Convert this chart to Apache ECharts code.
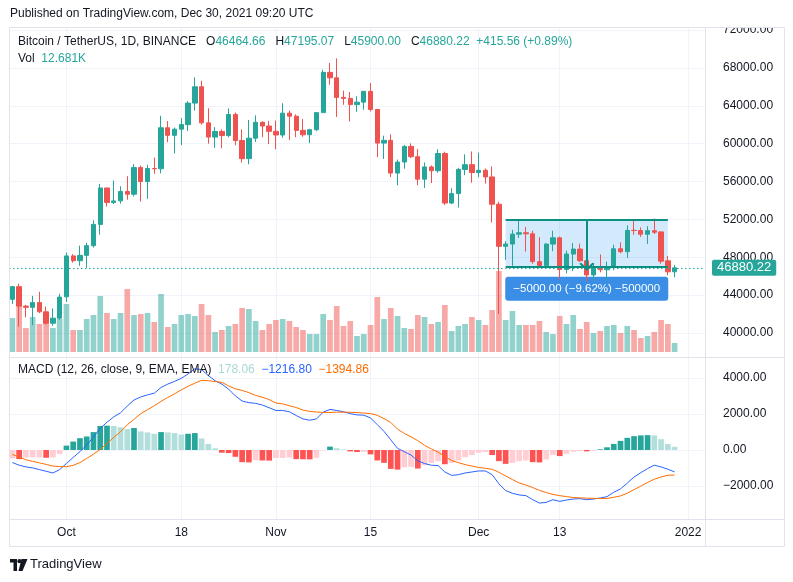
<!DOCTYPE html>
<html><head><meta charset="utf-8">
<script src="https://cdn.jsdelivr.net/npm/echarts@6/dist/echarts.min.js"></script>
<style>html,body{margin:0;padding:0;background:#fff}#c{width:793px;height:582px}</style>
</head><body><div id="c"></div>
<script>
const dates = [
'2021-09-23','2021-09-24','2021-09-25','2021-09-26','2021-09-27','2021-09-28','2021-09-29','2021-09-30',
'2021-10-01','2021-10-02','2021-10-03','2021-10-04','2021-10-05','2021-10-06','2021-10-07','2021-10-08','2021-10-09','2021-10-10',
'2021-10-11','2021-10-12','2021-10-13','2021-10-14','2021-10-15','2021-10-16','2021-10-17','2021-10-18','2021-10-19','2021-10-20',
'2021-10-21','2021-10-22','2021-10-23','2021-10-24','2021-10-25','2021-10-26','2021-10-27','2021-10-28','2021-10-29','2021-10-30','2021-10-31',
'2021-11-01','2021-11-02','2021-11-03','2021-11-04','2021-11-05','2021-11-06','2021-11-07','2021-11-08','2021-11-09','2021-11-10',
'2021-11-11','2021-11-12','2021-11-13','2021-11-14','2021-11-15','2021-11-16','2021-11-17','2021-11-18','2021-11-19','2021-11-20',
'2021-11-21','2021-11-22','2021-11-23','2021-11-24','2021-11-25','2021-11-26','2021-11-27','2021-11-28','2021-11-29','2021-11-30',
'2021-12-01','2021-12-02','2021-12-03','2021-12-04','2021-12-05','2021-12-06','2021-12-07','2021-12-08','2021-12-09','2021-12-10',
'2021-12-11','2021-12-12','2021-12-13','2021-12-14','2021-12-15','2021-12-16','2021-12-17','2021-12-18','2021-12-19','2021-12-20',
'2021-12-21','2021-12-22','2021-12-23','2021-12-24','2021-12-25','2021-12-26','2021-12-27','2021-12-28','2021-12-29','2021-12-30','2021-12-31',
'2022-01-01','2022-01-02','2022-01-03'];

const opens = [43560,44895,42839,42716,43208,42236,41034,41565,43820,48141,
 47634,48200,49225,51471,55316,53785,53955,54950,54659,57471,
 55997,57370,57347,61672,60876,61528,62005,64280,66002,62193,
 60689,61286,60852,63078,60328,58413,60575,62253,61860,61300,
 60911,63220,62896,61396,60940,61470,63274,67525,66947,64882,
 64774,64122,64380,65519,63606,60058,60345,56891,58057,59707,
 58617,56247,57542,57138,58960,53724,54721,57275,57777,56951,
 57185,56485,53602,49152,49396,50441,50589,50471,47536,47140,
 49389,50054,46702,48336,48864,47632,46133,46835,46682,46915,
 48897,48588,50839,50820,50428,50802,50679,47623,46464.66];
const highs = [44978,45200,42970,43919,44350,42787,42590,44132,48495,48336,
 49228,49536,51886,55750,55332,56100,55489,56561,57839,57680,
 57777,58532,62933,62378,61700,62695,64486,67000,66639,63732,
 61747,61500,63710,63293,61496,62499,62980,62359,62405,62437,
 64270,63500,63086,62595,61560,63286,67789,68524,69000,65600,
 65460,65000,65550,66401,63617,60840,60977,58320,59846,60029,
 59444,58010,57700,59399,59150,55281,57445,58865,59176,59053,
 57375,57600,53859,49699,50891,51936,51200,50797,50125,49485,
 50800,50189,48700,49500,49436,47995,47392,48300,47537,49328,
 49576,51375,51869,51156,51281,52088,50704,48139,47195.07];
const lows = [43063,40675,41646,40829,42098,40888,40753,41410,43283,47430,
 47088,46891,49022,50382,53357,53617,53661,54080,54415,53879,
 54167,56819,56850,60150,58963,59844,61322,63482,62000,60000,
 59562,59510,60650,59817,58000,57820,60174,60673,59945,59405,
 60624,60382,60677,60721,60050,61322,63273,66222,62822,64100,
 62333,63360,63576,63400,58574,58373,56474,55600,57353,58486,
 55610,55317,55837,56935,53500,53610,53256,56666,55875,56458,
 55777,51680,42000,47727,47100,50039,48600,47320,46852,46751,
 48638,45672,46290,46547,47511,45456,45500,46406,45558,46630,
 48421,47920,50375,50142,49412,50450,47313,46096,45900];
const closes = [44895,42839,42716,43208,42235,41034,41564,43790,48141,47634,
 48200,49224,51471,55315,53785,53951,54950,54659,57471,55996,
 57368,57347,61672,60875,61528,62009,64280,66001,62193,60688,
 61286,60852,63078,60328,58413,60575,62253,61859,61299,60911,
 63219,62896,61395,60937,61470,63273,67525,66947,64882,64775,
 64122,64380,65519,63606,60058,60345,56891,58052,59707,58622,
 56247,57541,57138,58960,53726,54721,57274,57776,56950,57184,
 56480,53601,49152,49397,50441,50588,50472,47545,47140,49389,
 50053,46702,48343,48864,47632,46131,46834,46681,46915,48896,
 48588,50838,50821,50429,50809,50640,47588,46464.66,46880.22];
// volume in thousands of BTC
const volumes = [47.6,67.2,33.6,49.0,39.2,40.6,33.6,46.2,67.2,30.8,
 30.8,46.2,51.8,78.4,54.6,46.2,54.6,88.2,51.8,53.2,
 54.6,42.0,81.2,35.0,39.2,51.8,53.2,50.4,67.2,51.8,
 28.0,30.8,36.4,39.2,61.6,60.2,43.4,30.8,39.2,44.8,
 46.2,43.4,35.0,30.8,25.2,25.2,53.2,44.8,64.4,36.4,
 43.4,22.4,25.2,37.8,77.0,46.2,61.6,50.4,33.6,32.2,
 51.8,49.0,39.2,42.0,65.8,29.4,36.4,39.2,49.0,44.8,
 37.8,58.8,113.4,44.8,57.4,37.8,37.8,37.8,43.4,28.0,
 25.2,50.4,39.2,51.8,32.2,42.0,26.6,29.4,36.4,37.8,
 26.6,36.4,30.8,19.6,22.4,28.0,44.8,39.2,12.681];
const macdLine = [-695,-845,-939,-995,-1089,-1183,-1277,-1089,-751,-413,
 -94,282,714,1202,1540,1840,2066,2441,2779,2948,
 3061,3155,3474,3662,3812,3981,4226,4507,4470,4132,
 3850,3662,3380,3005,2723,2629,2592,2498,2348,2197,
 2197,2122,1916,1728,1653,1728,2103,2254,2197,2122,
 2020,1950,1934,1784,1408,1033,563,94,-94,-282,
 -601,-751,-845,-864,-1221,-1408,-1371,-1277,-1221,-1164,
 -1164,-1371,-1878,-2254,-2404,-2498,-2535,-2761,-2948,-2911,
 -2761,-2855,-2780,-2723,-2704,-2761,-2723,-2667,-2592,-2348,
 -2160,-1840,-1502,-1258,-1033,-845,-939,-1070,-1216.80];
const signalLine = [-250,-380,-545,-630,-715,-800,-890,-920,-930,-850,
 -700,-470,-230,30,360,700,1010,1400,1700,2020,
 2240,2460,2700,2920,3120,3340,3540,3710,3870,3850,
 3800,3760,3560,3400,3310,3190,3030,2930,2800,2610,
 2560,2460,2360,2220,2140,2110,2090,2085,2103,2100,
 2100,2080,2050,2020,1930,1740,1530,1155,920,730,
 520,260,60,-120,-360,-580,-700,-810,-890,-970,
 -1015,-1070,-1240,-1445,-1640,-1830,-1945,-2085,-2245,-2365,
 -2470,-2535,-2590,-2640,-2658,-2676,-2685,-2695,-2690,-2630,
 -2550,-2400,-2200,-2010,-1800,-1625,-1500,-1400,-1394.86];
const histogram = [-470,-507,-413,-411,-410,-432,-413,-225,244,470,
 657,751,995,1333,1352,1333,1258,1164,1221,1033,
 977,901,995,977,939,864,901,939,638,338,
 94,-150,-170,-376,-676,-690,-563,-582,-590,-450,
 -440,-413,-507,-515,-520,-432,-20,188,94,30,
 -75,-110,-100,-244,-580,-714,-1050,-1090,-960,-940,
 -1030,-845,-714,-620,-790,-714,-580,-394,-282,-150,
 -113,-282,-620,-770,-714,-620,-580,-676,-690,-526,
 -282,-338,-207,-94,-56,-75,-38,38,150,338,
 507,676,770,810,826,810,600,338,178.06];

const xTickDates = ['2021-10-01','2021-10-18','2021-11-01','2021-11-15','2021-12-01','2021-12-13','2022-01-01'];
const xTickTexts = ['Oct','18','Nov','15','Dec','13','2022'];
const priceMin = 40000, priceMax = 72000, priceStep = 4000;
const macdMin = -2000, macdMax = 4000, macdStep = 2000;
const rangeStart = '2021-12-05', rangeMid = '2021-12-17', rangeEnd = '2021-12-29';
const rangeTop = 52000, rangeBottom = 47000;
const rangeLabel = '\u22125000.00 (\u22129.62%) \u2212500000';

const FONT = 'Liberation Sans';
const UP = '#26a69a', DOWN = '#ef5350';
const TXT = '#131722';
const GRIDC = '#f0f3fa';
const fmt = v => (v < 0 ? '\u2212' : '') + Math.abs(v).toFixed(2);
const n = closes.length;
const lastClose = closes[n - 1];
const chg = closes[n - 1] - closes[n - 2];
const pct = chg / closes[n - 2] * 100;

const candleData = opens.map((o, i) => [o, closes[i], lows[i], highs[i]]);
const volData = volumes.map((v, i) => ({
  value: v,
  itemStyle: { color: closes[i] >= opens[i] ? 'rgba(38,166,154,0.5)' : 'rgba(239,83,80,0.5)' }
}));
const histData = histogram.map((v, i) => {
  const prev = i > 0 ? histogram[i - 1] : null;
  let c;
  if (v >= 0) c = (prev === null || v >= prev) ? '#26a69a' : '#b2dfdb';
  else c = (prev === null || v > prev) ? '#ffcdd2' : '#ff5252';
  return { value: v, itemStyle: { color: c } };
});

const isTick = (i, v) => xTickDates.indexOf(v) >= 0;
function catAxis(gi, showLabel, showSplit) {
  return {
    type: 'category', gridIndex: gi, data: dates, boundaryGap: true,
    axisLine: { show: false }, axisTick: { show: false },
    axisLabel: { show: showLabel, interval: isTick, formatter: v => xTickTexts[xTickDates.indexOf(v)],
      color: TXT, fontSize: 12, margin: 8, fontFamily: FONT },
    splitLine: { show: showSplit, interval: isTick, alignWithLabel: true, lineStyle: { color: GRIDC, width: 1 } }
  };
}
const L = 9, R = 88;
const ARROW = 'path://M10,0L20,10L17.5,11.5L10,4L2.5,11.5L0,10Z';
const RL = '#0b8f80';

const option = {
  animation: false,
  textStyle: { fontFamily: FONT },
  title: [
    { text: 'Published on TradingView.com, Dec 30, 2021 09:20 UTC', left: 10, top: 8, padding: 0,
      textStyle: { fontSize: 12, fontWeight: 'normal', color: TXT, fontFamily: FONT } },
    { text: 'Bitcoin / TetherUS, 1D, BINANCE   O{v|' + opens[n-1].toFixed(2) + '}   H{v|' + highs[n-1].toFixed(2) +
            '}   L{v|' + lows[n-1].toFixed(2) + '}   C{v|' + lastClose.toFixed(2) + '}  {v|' +
            (chg >= 0 ? '+' : '\u2212') + Math.abs(chg).toFixed(2) + ' (' + (pct >= 0 ? '+' : '\u2212') + Math.abs(pct).toFixed(2) + '%)}',
      left: 18, top: 36, padding: 0,
      textStyle: { fontSize: 12, fontWeight: 'normal', color: TXT, fontFamily: FONT,
        rich: { v: { color: UP, fontSize: 12, fontFamily: FONT } } } },
    { text: 'Vol  {v|' + volumes[n-1].toFixed(3) + 'K}', left: 18, top: 53, padding: 0,
      textStyle: { fontSize: 12, fontWeight: 'normal', color: TXT, fontFamily: FONT,
        rich: { v: { color: UP, fontSize: 12, fontFamily: FONT } } } },
    { text: 'MACD (12, 26, close, 9, EMA, EMA)  {h|' + fmt(histogram[n-1]) + '}  {m|' + fmt(macdLine[n-1]) + '}  {s|' + fmt(signalLine[n-1]) + '}',
      left: 18, top: 364, padding: 0,
      textStyle: { fontSize: 12, fontWeight: 'normal', color: TXT, fontFamily: FONT,
        rich: { h: { color: '#a8dad3', fontSize: 12, fontFamily: FONT },
                m: { color: '#2962ff', fontSize: 12, fontFamily: FONT },
                s: { color: '#ff6d00', fontSize: 12, fontFamily: FONT } } } }
  ],
  grid: [
    { left: L, right: R, top: 30, height: 303 },
    { left: L, right: R, top: 27, height: 330 },
    { left: L, right: R, top: 378, height: 108 },
    { left: L, right: R, top: 358, height: 161 }
  ],
  xAxis: [catAxis(0, false, false), catAxis(1, false, true), catAxis(2, false, false), catAxis(3, true, true)],
  yAxis: [
    { type: 'value', gridIndex: 0, position: 'right', min: priceMin, max: priceMax, interval: priceStep,
      axisLine: { show: false }, axisTick: { show: false },
      axisLabel: { formatter: v => v.toFixed(2), color: TXT, fontSize: 12, margin: 18, fontFamily: FONT },
      splitLine: { lineStyle: { color: GRIDC } } },
    { type: 'value', gridIndex: 1, min: -7, max: 455, show: false, splitLine: { show: false } },
    { type: 'value', gridIndex: 2, position: 'right', min: macdMin, max: macdMax, interval: macdStep,
      axisLine: { show: false }, axisTick: { show: false },
      axisLabel: { formatter: v => fmt(v), color: TXT, fontSize: 12, margin: 18, fontFamily: FONT },
      splitLine: { lineStyle: { color: GRIDC } } },
    { type: 'value', gridIndex: 3, show: false, splitLine: { show: false } }
  ],
  series: [
    { type: 'bar', name: 'Vol', xAxisIndex: 1, yAxisIndex: 1, data: volData, barWidth: '84%', z: 1, silent: true },
    { type: 'candlestick', name: 'BTCUSDT', xAxisIndex: 0, yAxisIndex: 0, data: candleData, barWidth: '72%', z: 3,
      itemStyle: { color: UP, color0: DOWN, borderColor: UP, borderColor0: DOWN, borderWidth: 1 },
      markArea: {
        silent: true,
        itemStyle: { color: 'rgba(33,150,243,0.2)' },
        label: { show: true, position: 'bottom', distance: 10, formatter: rangeLabel,
          color: '#fff', fontSize: 11.5, fontFamily: FONT, backgroundColor: '#3a8ee6', borderRadius: 3,
          width: 163, height: 16, lineHeight: 16, padding: [4, 0], align: 'center' },
        data: [[{ coord: [rangeStart, rangeTop] }, { coord: [rangeEnd, rangeBottom] }]]
      },
      markLine: {
        silent: true, symbol: 'none', animation: false,
        data: [
          { yAxis: lastClose, lineStyle: { color: UP, type: [1.5, 2.5], width: 1 },
            label: { show: true, position: 'end', formatter: lastClose.toFixed(2), color: '#fff', fontSize: 13,
              fontFamily: FONT, backgroundColor: UP, padding: [2, 5, 1, 5], borderRadius: 2, distance: 7 } },
          [{ coord: [rangeStart, rangeTop], lineStyle: { color: RL, width: 2, type: 'solid' }, label: { show: false } },
           { coord: [rangeEnd, rangeTop] }],
          [{ coord: [rangeStart, rangeBottom], lineStyle: { color: RL, width: 2, type: 'solid' }, label: { show: false } },
           { coord: [rangeEnd, rangeBottom] }],
          [{ coord: [rangeMid, rangeTop], symbol: 'none', lineStyle: { color: RL, width: 2, type: 'solid' }, label: { show: false } },
           { coord: [rangeMid, rangeBottom], symbol: ARROW, symbolSize: [15, 8] }]
        ]
      }
    },
    { type: 'bar', name: 'Histogram', xAxisIndex: 2, yAxisIndex: 2, data: histData, barWidth: '84%', silent: true },
    { type: 'line', name: 'MACD', xAxisIndex: 2, yAxisIndex: 2, data: macdLine, symbol: 'none', clip: false,
      lineStyle: { color: '#2962ff', width: 1 }, z: 4 },
    { type: 'line', name: 'Signal', xAxisIndex: 2, yAxisIndex: 2, data: signalLine, symbol: 'none', clip: false,
      lineStyle: { color: '#ff6d00', width: 1 }, z: 4 }
  ],
  graphic: [
    { type: 'rect', shape: { x: 706, y: 0, width: 87, height: 27 }, style: { fill: '#fff' }, z: 50, silent: true },
    { type: 'rect', shape: { x: 9.5, y: 27.5, width: 775, height: 519 }, style: { fill: null, stroke: '#e0e3eb', lineWidth: 1 }, z: 60, silent: true },
    { type: 'line', shape: { x1: 705.5, y1: 27, x2: 705.5, y2: 546 }, style: { stroke: '#e0e3eb', lineWidth: 1 }, z: 60, silent: true },
    { type: 'line', shape: { x1: 9, y1: 357.5, x2: 785, y2: 357.5 }, style: { stroke: '#e0e3eb', lineWidth: 1 }, z: 60, silent: true },
    { type: 'line', shape: { x1: 9, y1: 519.5, x2: 785, y2: 519.5 }, style: { stroke: '#e0e3eb', lineWidth: 1 }, z: 60, silent: true },
    { type: 'polygon', shape: { points: [[10,559],[17,559],[17,571],[13.5,571],[13.5,562.5],[10,562.5]] }, style: { fill: '#131722' }, z: 60, silent: true },
    { type: 'circle', shape: { cx: 19.5, cy: 561.2, r: 2.1 }, style: { fill: '#131722' }, z: 60, silent: true },
    { type: 'polygon', shape: { points: [[21.5,559],[27.5,559],[22.5,571],[18.5,571]] }, style: { fill: '#131722' }, z: 60, silent: true },
    { type: 'text', left: 30, top: 558, style: { text: 'TradingView', fill: '#131722', font: '13px "Liberation Sans"' }, z: 60, silent: true }
  ]
};
const chart = echarts.init(document.getElementById('c'));
chart.setOption(option);
</script>
</body></html>
